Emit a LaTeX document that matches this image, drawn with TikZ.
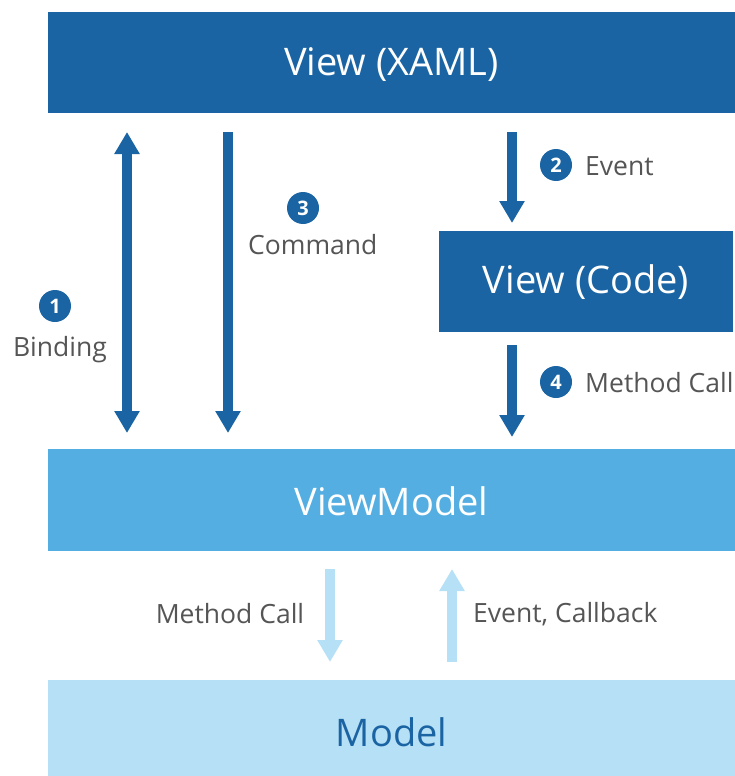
\documentclass[tikz,border=0pt]{standalone}
\usepackage{fontspec}
\setmainfont{Open Sans}
\usetikzlibrary{arrows.meta}
\definecolor{darkblue}{HTML}{1B64A3}
\definecolor{midblue}{HTML}{55AEE2}
\definecolor{paleblue}{HTML}{B6E0F6}
\definecolor{labelgray}{HTML}{555555}
\tikzset{
  x=1pt, y=-1pt,
  layer/.style={anchor=north west, inner sep=0pt, outer sep=0pt},
  layertext/.style={inner sep=0pt, font=\fontsize{38}{42}\selectfont},
  flow/.style={draw=darkblue, line width=10pt, -{Triangle[width=24pt,length=22pt]}},
  flowboth/.style={draw=darkblue, line width=10pt, {Triangle[width=24pt,length=22pt]}-{Triangle[width=24pt,length=22pt]}},
  lightflow/.style={draw=paleblue, line width=10pt, -{Triangle[width=24pt,length=22pt]}},
  badge/.style={circle, fill=darkblue, text=white, minimum size=32pt, inner sep=0pt, font=\fontsize{20}{20}\selectfont\bfseries},
  lbl/.style={text=labelgray, inner sep=0pt, font=\fontsize{26.5}{30}\selectfont},
}
\begin{document}
\begin{tikzpicture}
\useasboundingbox (0,0) rectangle (735,776);

% layers
\node[layer, fill=darkblue, minimum width=687pt, minimum height=101pt] (xaml) at (48,12) {};
\node[layertext, text=white] at ([yshift=-2pt]xaml.center) {View (XAML)};
\node[layer, fill=darkblue, minimum width=294pt, minimum height=101pt] (code) at (439,231) {};
\node[layertext, text=white] at ([yshift=-1pt]code.center) {View (Code)};
\node[layer, fill=midblue, minimum width=687pt, minimum height=102pt] (vm) at (48,449) {};
\node[layertext, text=white] at ([yshift=-1pt]vm.center) {ViewModel};
\node[layer, fill=paleblue, minimum width=687pt, minimum height=96pt] (model) at (48,680) {};
\node[layertext, text=darkblue] at ([yshift=-4pt]model.center) {Model};

% arrow end points
\coordinate (bindTop) at (127,132);
\coordinate (bindBot) at (127,433);
\coordinate (cmdTop) at (228,132);
\coordinate (cmdBot) at (228,433);
\coordinate (evTop) at (512,132);
\coordinate (evBot) at (512,223);
\coordinate (mcTop) at (512,345);
\coordinate (mcBot) at (512,437);
\coordinate (dnTop) at (330,569);
\coordinate (dnBot) at (330,662);
\coordinate (upBot) at (452,662);
\coordinate (upTop) at (452,569);

\draw[flowboth] (bindTop) -- (bindBot);
\draw[flow] (cmdTop) -- (cmdBot);
\draw[flow] (evTop) -- (evBot);
\draw[flow] (mcTop) -- (mcBot);
\draw[lightflow] (dnTop) -- (dnBot);
\draw[lightflow] (upBot) -- (upTop);

% numbered labels
\node[badge] (b1) at (55,306) {1};
\node[lbl] (l1) at (60,350) {Binding};
\node[badge] (b3) at (303,208) {3};
\node[lbl, anchor=west] (l3) at (248,245) {Command};
\node[badge] (b2) at (556,165) {2};
\node[lbl, anchor=west] (l2) at (585,166) {Event};
\node[badge] (b4) at (556,382) {4};
\node[lbl, anchor=west] (l4) at (585,383) {Method Call};

\node[lbl] (l5) at (230,614) {Method Call};
\node[lbl, anchor=west] (l6) at (473,614) {Event, Callback};
\end{tikzpicture}
\end{document}
